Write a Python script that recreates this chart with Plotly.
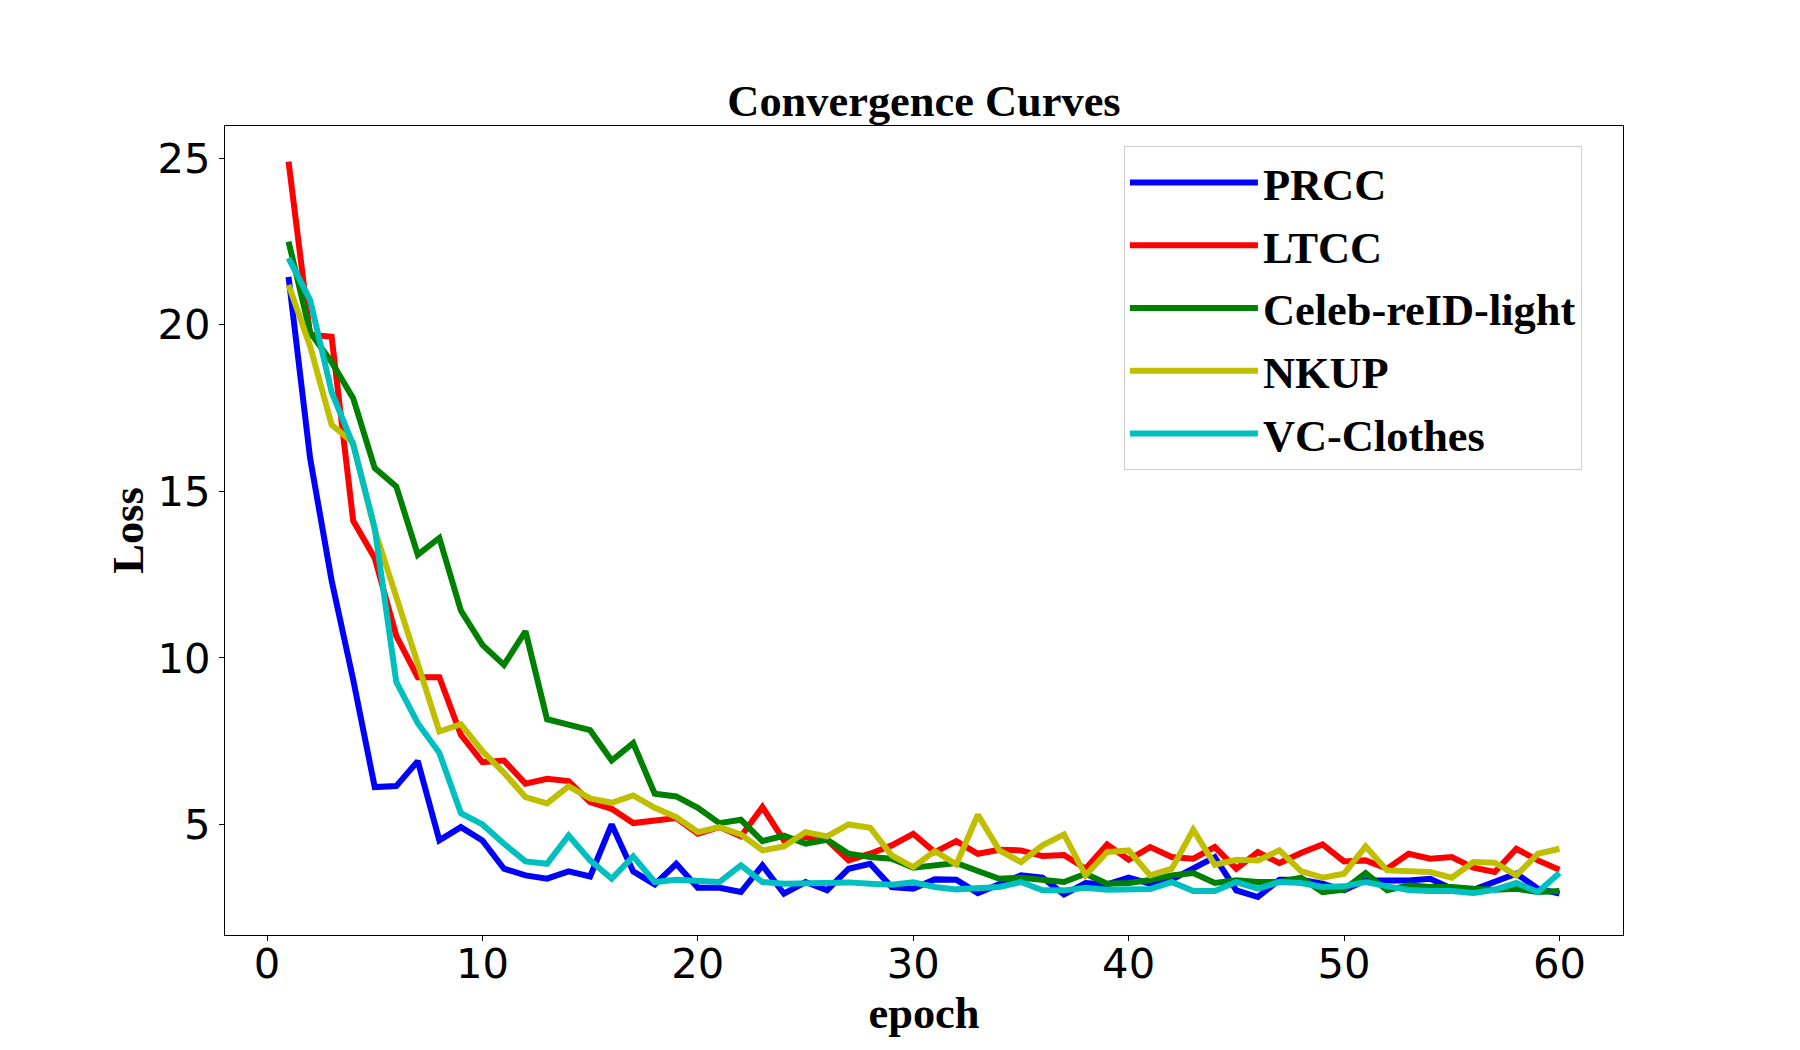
import plotly.graph_objects as go

epochs = list(range(1, 61))

prcc = [21.44, 16.0, 12.32, 9.35, 6.12, 6.15, 6.9, 4.52, 4.92, 4.52,
        3.67, 3.47, 3.37, 3.59, 3.44, 5.0, 3.59, 3.2, 3.82, 3.1,
        3.1, 2.97, 3.77, 2.92, 3.27, 3.02, 3.67, 3.82, 3.12, 3.07,
        3.35, 3.34, 2.94, 3.22, 3.47, 3.4, 2.9, 3.24, 3.2, 3.4,
        3.22, 3.34, 3.67, 4.02, 3.02, 2.82, 3.34, 3.34, 3.22, 3.02,
        3.32, 3.32, 3.32, 3.37, 3.07, 3.04, 3.27, 3.52, 3.07, 2.92]

ltcc = [24.9, 19.7, 19.64, 14.12, 13.0, 10.66, 9.42, 9.42, 7.69, 6.87,
        6.92, 6.22, 6.37, 6.3, 5.67, 5.47, 5.04, 5.1, 5.19, 4.72,
        4.92, 4.64, 5.52, 4.52, 4.62, 4.54, 3.92, 4.12, 4.37, 4.72,
        4.17, 4.5, 4.12, 4.24, 4.22, 4.05, 4.08, 3.67, 4.4, 3.94,
        4.32, 4.02, 3.97, 4.32, 3.67, 4.17, 3.84, 4.14, 4.4, 3.89,
        3.92, 3.67, 4.12, 3.97, 4.02, 3.7, 3.57, 4.27, 3.92, 3.64]

celeb = [22.5, 19.78, 18.88, 17.8, 15.7, 15.15, 13.1, 13.6, 11.42, 10.39,
         9.79, 10.8, 8.16, 8.01, 7.83, 6.92, 7.44, 5.92, 5.84, 5.5,
         5.04, 5.14, 4.5, 4.66, 4.42, 4.54, 4.12, 4.02, 3.97, 3.7,
         3.77, 3.84, 3.6, 3.37, 3.4, 3.32, 3.27, 3.52, 3.22, 3.24,
         3.33, 3.47, 3.54, 3.24, 3.32, 3.27, 3.27, 3.4, 2.97, 3.04,
         3.54, 3.02, 3.17, 3.12, 3.12, 3.07, 3.04, 3.07, 2.97, 3.0]

nkup = [21.2, 19.36, 17.0, 16.46, 13.84, 11.9, 9.83, 7.79, 8.01, 7.2,
        6.55, 5.82, 5.63, 6.14, 5.78, 5.65, 5.87, 5.5, 5.22, 4.77,
        4.92, 4.7, 4.22, 4.34, 4.77, 4.64, 5.0, 4.9, 4.07, 3.72,
        4.2, 3.8, 5.29, 4.22, 3.87, 4.37, 4.7, 3.47, 4.17, 4.22,
        3.47, 3.67, 4.84, 3.79, 3.94, 3.92, 4.22, 3.6, 3.4, 3.52,
        4.34, 3.62, 3.6, 3.57, 3.4, 3.87, 3.85, 3.47, 4.12, 4.27]

vc = [22.0, 20.75, 17.98, 16.4, 13.9, 9.28, 8.04, 7.15, 5.34, 5.0,
      4.42, 3.89, 3.82, 4.67, 3.92, 3.37, 4.04, 3.27, 3.34, 3.3,
      3.27, 3.77, 3.27, 3.22, 3.24, 3.28, 3.26, 3.22, 3.19, 3.26,
      3.12, 3.05, 3.07, 3.12, 3.27, 3.02, 3.02, 3.1, 3.04, 3.07,
      3.06, 3.27, 3.0, 3.0, 3.27, 3.07, 3.27, 3.24, 3.12, 3.14,
      3.27, 3.14, 3.03, 3.0, 3.0, 2.94, 3.04, 3.24, 2.97, 3.54]

series_names = ["PRCC", "LTCC", "Celeb-reID-light", "NKUP", "VC-Clothes"]
series_values = [prcc, ltcc, celeb, nkup, vc]
series_colors = ["#0000ff", "#ff0000", "#008000", "#bfbf00", "#00bfbf"]

x_ticks = [0, 10, 20, 30, 40, 50, 60]
y_ticks = [5, 10, 15, 20, 25]

fig = go.Figure()
for name, vals, col in zip(series_names, series_values, series_colors):
    fig.add_trace(go.Scatter(
        x=epochs, y=vals, mode="lines", name=name, legendgroup=name,
        line=dict(color=col, width=6),
    ))

serif = "Liberation Serif, Times New Roman, serif"
tickfont = dict(family="DejaVu Sans, sans-serif", size=41.7, color="black")
labfont = dict(family=serif, size=44.4, color="black", weight="bold")

fig.update_layout(
    width=1800, height=1050,
    margin=dict(l=225, r=177, t=126, b=115, pad=0),
    paper_bgcolor="white", plot_bgcolor="white",
    title=dict(text="Convergence Curves", x=0.5, xref="paper", xanchor="center",
               y=1, yref="paper", yanchor="bottom", pad=dict(b=10),
               font=labfont),
    legend=dict(x=0.643, y=0.975, xanchor="left", yanchor="top",
                font=labfont, bordercolor="#cccccc", borderwidth=1,
                bgcolor="rgba(255,255,255,0.8)", itemwidth=128,
                tracegroupgap=2),
    showlegend=True,
)
fig.update_xaxes(
    range=[-1.95, 62.95], tickvals=x_ticks, ticktext=[str(v) for v in x_ticks],
    showline=True, linecolor="black", linewidth=1.1, mirror=True,
    ticks="outside", ticklen=5, tickwidth=1.1, tickcolor="black",
    showgrid=False, zeroline=False, tickfont=tickfont, automargin=False,
    ticklabelstandoff=-13,
    title=dict(text="epoch", font=labfont, standoff=2),
)
fig.update_yaxes(
    range=[1.68, 25.97], tickvals=y_ticks, ticktext=[str(v) for v in y_ticks],
    showline=True, linecolor="black", linewidth=1.1, mirror=True,
    ticks="outside", ticklen=5, tickwidth=1.1, tickcolor="black",
    showgrid=False, zeroline=False, tickfont=tickfont, automargin=False,
    title=dict(text="Loss", font=labfont, standoff=0),
)

fig.write_html("out.html", config={"displayModeBar": False},
               post_script="document.body.style.margin='0';")
